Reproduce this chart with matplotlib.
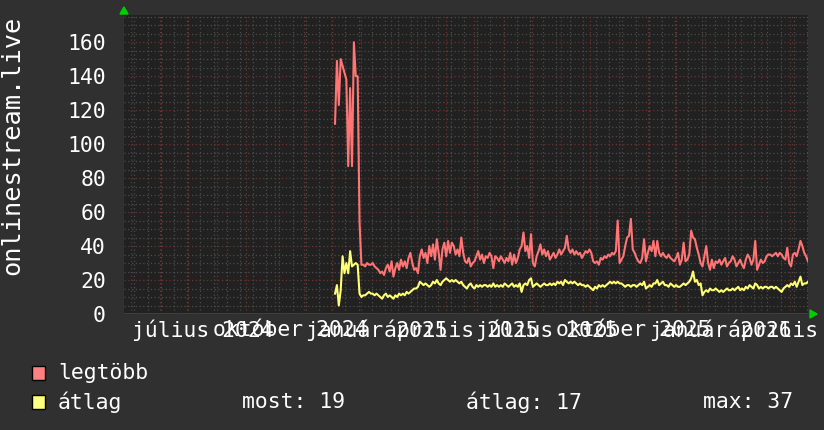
import numpy as np
import pandas as pd
import matplotlib
matplotlib.use("Agg")
import matplotlib.pyplot as plt
from matplotlib.patches import Polygon, Rectangle

# 2-day samples starting 2024-12-04
start_date = "2024-12-04"

max_vals = [
    112, 149, 123, 150, 146, 142, 138, 87, 133, 87, 160, 140, 140,
    54, 29, 29, 28, 30, 29, 29, 30, 28, 27,
    26, 24, 25, 23, 27, 29, 25, 31, 22, 27,
    30, 26, 32, 28, 31, 27, 33, 36, 30, 26,
    27, 24, 34, 38, 33, 36, 30, 40, 34, 41,
    32, 44, 36, 26, 38, 42, 34, 43, 36, 42,
    40, 35, 38, 34, 45, 36, 31, 30, 33, 28,
    30, 31, 34, 37, 32, 35, 30, 34, 33, 36,
    34, 27, 34, 33, 31, 34, 32, 30, 33, 31,
    36, 29, 35, 30, 33, 38, 40, 48, 37, 40,
    33, 47, 30, 28, 34, 37, 41, 35, 38, 34,
    37, 32, 34, 36, 33, 35, 38, 35, 37, 39,
    46, 38, 36, 38, 35, 37, 35, 36, 33, 35,
    37, 36, 38, 36, 31, 30, 31, 29, 33, 32,
    34, 33, 35, 34, 36, 35, 37, 55, 30, 32,
    34, 40, 45, 46, 56, 38, 36, 33, 31, 30,
    33, 44, 31, 36, 40, 37, 43, 34, 43, 36,
    34, 36, 34, 33, 35, 33, 32, 31, 33, 36,
    29, 32, 42, 31, 32, 35, 49, 45, 44, 39,
    35, 30, 28, 34, 40, 30, 26, 32, 27, 31,
    30, 32, 29, 31, 33, 28, 30, 31, 34, 32,
    28, 30, 32, 29, 27, 32, 35, 33, 29, 32,
    43, 26, 29, 32, 30, 31, 34, 35, 35, 34,
    35, 36, 34, 36, 35, 33, 32, 39, 30, 28,
    35, 36, 34, 38, 43, 40, 36, 34, 31,
]

avg_vals = [
    12, 17, 5, 14, 34, 24, 30, 24, 37, 28, 29, 30, 29,
    12, 10, 11, 11, 12, 13, 12, 12, 11, 12,
    11, 10, 9, 11, 12, 10, 11, 10, 9, 11,
    10, 12, 11, 12, 11, 13, 12, 13, 14, 15,
    15, 16, 19, 18, 17, 18, 17, 16, 17, 19,
    18, 20, 18, 17, 19, 20, 21, 20, 19, 20,
    19, 20, 19, 18, 19, 17, 16, 15, 17, 18,
    16, 15, 17, 16, 17, 16, 17, 17, 16, 17,
    16, 18, 16, 17, 16, 17, 16, 18, 17, 16,
    17, 18, 16, 17, 16, 18, 13, 17, 18, 17,
    20, 21, 16, 17, 18, 17, 16, 17, 18, 17,
    17, 18, 17, 18, 17, 19, 18, 19, 17, 20,
    19, 18, 19, 18, 19, 18, 17, 18, 17, 17,
    16, 17, 16, 15, 14, 16, 15, 17, 16, 17,
    16, 17, 18, 19, 18, 19, 18, 19, 18, 18,
    17, 16, 17, 17, 16, 17, 17, 16, 17, 18,
    17, 19, 15, 16, 17, 16, 18, 18, 20, 17,
    18, 19, 17, 17, 16, 18, 17, 16, 17, 16,
    16, 17, 18, 17, 18, 19, 21, 25, 19, 20,
    17, 18, 11, 13, 14, 13, 15, 14, 14, 15,
    14, 13, 14, 13, 14, 15, 14, 14, 15, 14,
    15, 16, 14, 15, 14, 16, 15, 17, 16, 15,
    18, 17, 15, 16, 15, 16, 16, 15, 16, 16,
    15, 16, 15, 14, 13, 15, 16, 17, 16, 18,
    17, 19, 16, 19, 22, 17, 18, 18, 19,
]

month_labels = ["július 2024", "október 2024", "január 2025", "április 2025",
                "július 2025", "október 2025", "január 2026", "április 2026"]
y_ticks = [0, 20, 40, 60, 80, 100, 120, 140, 160]
legend_names = ["legtöbb", "átlag"]
legend_stats = ["most: 19", "átlag: 17", "max: 37"]
y_title = "onlinestream.live"

dates = pd.date_range(start_date, periods=len(max_vals), freq="2D")
x_start = pd.Timestamp("2024-04-24")
x_end = pd.Timestamp("2026-04-20")
y_top = 176

W, H = 824, 430
BACK = "#303030"
CANVAS = "#212121"
FONT = "DejaVu Sans Mono"
FS = 15.4
RED = "#ff7474"
YELLOW = "#ffff74"
MINOR = "#4c4c4c"
MAJOR = "#6e3232"
DOTS = (0, (1, 2))

def fx(px):
    return px / W

def fy(py):
    return 1 - py / H

fig = plt.figure(figsize=(W / 100, H / 100), dpi=100, facecolor=BACK)
ax = fig.add_axes([fx(124), fy(314), 684 / W, 299 / H])
ax.set_facecolor(CANVAS)
ax.set_xlim(x_start, x_end)
ax.set_ylim(0, y_top)

# grid: minor every 5 / 2 weeks, major every 20 / month
for v in range(5, y_top + 1, 5):
    if v % 20:
        ax.axhline(v, color=MINOR, lw=0.9, ls=DOTS, zorder=1)
for v in y_ticks[1:]:
    ax.axhline(v, color=MAJOR, lw=0.9, ls=DOTS, zorder=1.1)
for d in pd.date_range("2024-05-05", x_end, freq="14D"):
    ax.axvline(d, color=MINOR, lw=0.9, ls=DOTS, zorder=1)
for d in pd.date_range("2024-05-01", x_end, freq="MS"):
    ax.axvline(d, color=MAJOR, lw=0.9, ls=DOTS, zorder=1.1)

ax.plot(dates, max_vals, color=RED, lw=1.5, zorder=3)
ax.plot(dates, avg_vals, color=YELLOW, lw=1.5, zorder=4)

for s in ax.spines.values():
    s.set_visible(False)
ax.axhline(0, color="#444444", lw=1.2, zorder=2)

ax.set_xticks([])
ax.set_yticks(y_ticks)
ax.set_yticklabels([str(v) for v in y_ticks], fontfamily=FONT, fontsize=FS, color="white")
ax.tick_params(axis="y", length=0, pad=13)

# x labels, centred a little after each quarter start (rrdtool style)
for d, lab in zip(pd.date_range("2024-07-01", periods=len(month_labels), freq="3MS"), month_labels):
    ax.text(d + pd.Timedelta(days=16), -16 / 299, lab, transform=ax.get_xaxis_transform(),
            ha="center", va="center", fontfamily=FONT, fontsize=FS, color="white", clip_on=False)

fig.text(fx(12), fy(145), y_title, rotation=90, ha="center", va="center",
         fontfamily=FONT, fontsize=18.3, color="white")

# green axis arrows
green = "#00d000"
fig.add_artist(Polygon([(fx(120), fy(14)), (fx(128), fy(14)), (fx(124), fy(7))],
                       closed=True, color=green, transform=fig.transFigure))
fig.add_artist(Polygon([(fx(810), fy(310)), (fx(810), fy(318)), (fx(817), fy(314))],
                       closed=True, color=green, transform=fig.transFigure))

# legend
for row, (name, col) in enumerate(zip(legend_names, ["#ff8080", "#ffff80"])):
    ytop = 366 + row * 29
    fig.add_artist(Rectangle((fx(32), fy(ytop + 14)), 13 / W, 14 / H, facecolor=col,
                             edgecolor="black", lw=1, transform=fig.transFigure))
    fig.text(fx(58), fy(ytop + 7), name, ha="left", va="center",
             fontfamily=FONT, fontsize=FS, color="white")
for x0, txt in zip([242, 466, 703], legend_stats):
    fig.text(fx(x0), fy(402), txt, ha="left", va="center",
             fontfamily=FONT, fontsize=FS, color="white")

fig.savefig("out.png", dpi=100, facecolor=BACK)
